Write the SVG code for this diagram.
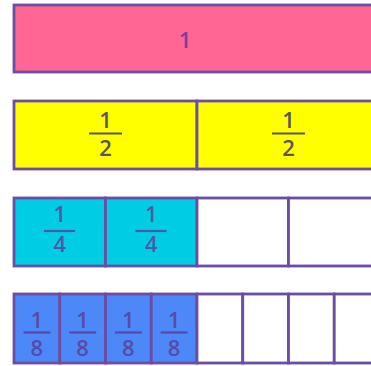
<svg xmlns="http://www.w3.org/2000/svg" width="371" height="366" viewBox="0 0 371 366">
<style>
.c{stroke:#6a4ea6;stroke-width:2.8}
.t{font-family:"Open Sans","Liberation Sans",sans-serif;font-size:22px;font-weight:600;text-anchor:middle}
.fl{stroke-width:2.2}
</style>
<rect width="371" height="366" fill="#ffffff"/>
<g id="whole">
<rect class="c" x="14" y="5" width="366" height="67" fill="#ff6694"/>
<text class="t" x="185" y="48" font-size="24" fill="#7a3f9e">1</text>
</g>
<g id="halves" fill="#ffff00">
<g id="half1">
<rect class="c" x="14" y="101" width="183" height="68"/>
<text class="t" x="105.5" y="128" fill="#5c5560">1</text>
<line class="fl" x1="89" y1="133.5" x2="122" y2="133.5" stroke="#5c5560"/>
<text class="t" x="105.5" y="156" fill="#5c5560">2</text>
</g>
<g id="half2">
<rect class="c" x="197" y="101" width="183" height="68"/>
<text class="t" x="288.5" y="128" fill="#5c5560">1</text>
<line class="fl" x1="272" y1="133.5" x2="305" y2="133.5" stroke="#5c5560"/>
<text class="t" x="288.5" y="156" fill="#5c5560">2</text>
</g>
</g>
<g id="quarters">
<g id="q1">
<rect class="c" x="14" y="198" width="91.5" height="68" fill="#00cde3"/>
<text class="t" x="59.75" y="222" fill="#4a5aa8">1</text>
<line class="fl" x1="44" y1="231" x2="75" y2="231" stroke="#4a5aa8"/>
<text class="t" x="59.75" y="252" fill="#4a5aa8">4</text>
</g>
<g id="q2">
<rect class="c" x="105.5" y="198" width="91.5" height="68" fill="#00cde3"/>
<text class="t" x="151.25" y="222" fill="#4a5aa8">1</text>
<line class="fl" x1="135.5" y1="231" x2="166.5" y2="231" stroke="#4a5aa8"/>
<text class="t" x="151.25" y="252" fill="#4a5aa8">4</text>
</g>
<g id="q3"><rect class="c" x="197" y="198" width="91.5" height="68" fill="#ffffff"/></g>
<g id="q4"><rect class="c" x="288.5" y="198" width="91.5" height="68" fill="#ffffff"/></g>
</g>
<g id="eighths">
<g id="e1">
<rect class="c" x="14" y="294" width="45.75" height="69" fill="#4d88f8"/>
<text class="t" x="36.9" y="328" fill="#5a4aa8">1</text>
<line class="fl" x1="23.5" y1="332.5" x2="50.5" y2="332.5" stroke="#5a4aa8"/>
<text class="t" x="36.9" y="356" fill="#5a4aa8">8</text>
</g>
<g id="e2">
<rect class="c" x="59.75" y="294" width="45.75" height="69" fill="#4d88f8"/>
<text class="t" x="82.6" y="328" fill="#5a4aa8">1</text>
<line class="fl" x1="69.2" y1="332.5" x2="96.2" y2="332.5" stroke="#5a4aa8"/>
<text class="t" x="82.6" y="356" fill="#5a4aa8">8</text>
</g>
<g id="e3">
<rect class="c" x="105.5" y="294" width="45.75" height="69" fill="#4d88f8"/>
<text class="t" x="128.4" y="328" fill="#5a4aa8">1</text>
<line class="fl" x1="114.9" y1="332.5" x2="141.9" y2="332.5" stroke="#5a4aa8"/>
<text class="t" x="128.4" y="356" fill="#5a4aa8">8</text>
</g>
<g id="e4">
<rect class="c" x="151.25" y="294" width="45.75" height="69" fill="#4d88f8"/>
<text class="t" x="174.1" y="328" fill="#5a4aa8">1</text>
<line class="fl" x1="160.6" y1="332.5" x2="187.6" y2="332.5" stroke="#5a4aa8"/>
<text class="t" x="174.1" y="356" fill="#5a4aa8">8</text>
</g>
<g id="e5"><rect class="c" x="197" y="294" width="45.75" height="69" fill="#ffffff"/></g>
<g id="e6"><rect class="c" x="242.75" y="294" width="45.75" height="69" fill="#ffffff"/></g>
<g id="e7"><rect class="c" x="288.5" y="294" width="45.75" height="69" fill="#ffffff"/></g>
<g id="e8"><rect class="c" x="334.25" y="294" width="45.75" height="69" fill="#ffffff"/></g>
</g>
<g id="connectors"/>
</svg>
